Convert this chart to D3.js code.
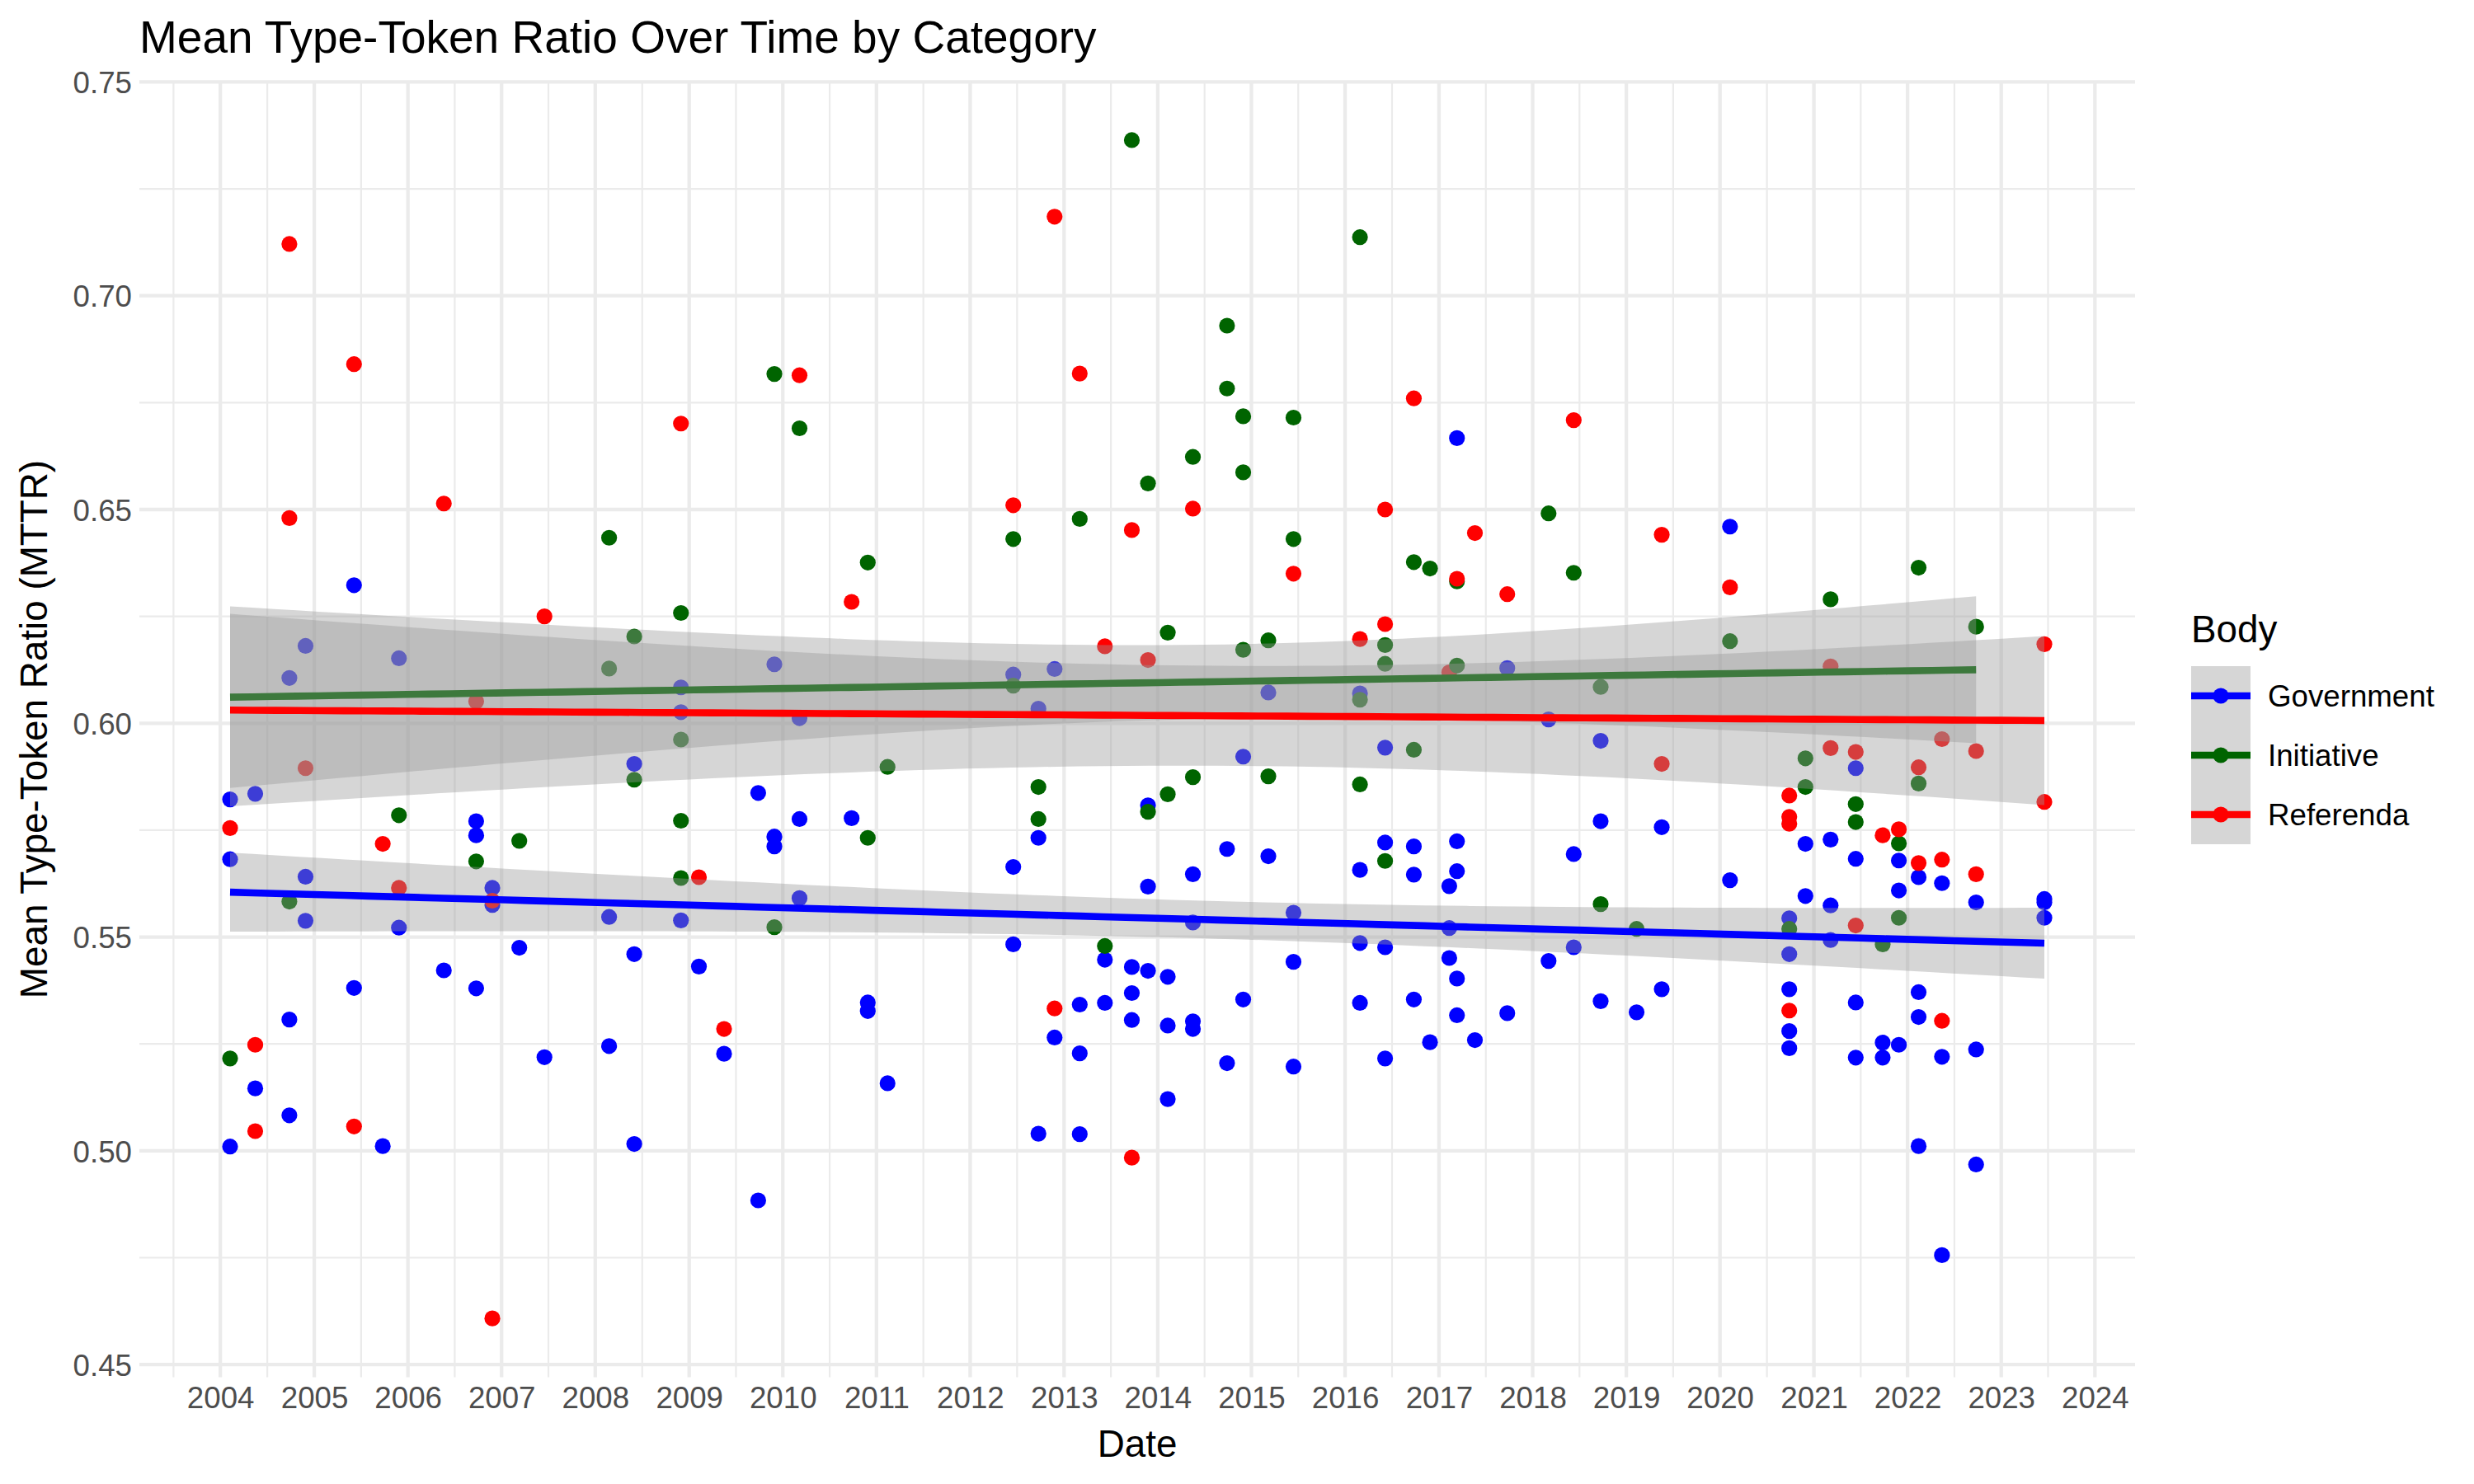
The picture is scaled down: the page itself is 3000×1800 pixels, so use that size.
<!DOCTYPE html>
<html><head><meta charset="utf-8">
<script src="https://cdn.jsdelivr.net/npm/d3@7"></script>
<style>
body{margin:0;background:#fff}
svg text{font-family:"Liberation Sans",Arial,Helvetica,sans-serif}
</style>
</head><body>
<svg id="chart" width="3000" height="1800"></svg>
<script>
// ---------------- DATA ----------------
const bodies = ["Government", "Initiative", "Referenda"];

const voteDates = [
 "2004-02-08","2004-05-16","2004-09-26","2004-11-28","2005-06-05","2005-09-25","2005-11-27","2006-05-21","2006-09-24","2006-11-26",
 "2007-03-11","2007-06-17","2008-02-24","2008-06-01","2008-11-30","2009-02-08","2009-05-17","2009-09-27","2009-11-29","2010-03-07",
 "2010-09-26","2010-11-28","2011-02-13","2012-06-17","2012-09-23","2012-11-25","2013-03-03","2013-06-09","2013-09-22","2013-11-24",
 "2014-02-09","2014-05-18","2014-09-28","2014-11-30","2015-03-08","2015-06-14","2016-02-28","2016-06-05","2016-09-25","2016-11-27",
 "2017-02-10","2017-03-12","2017-05-21","2017-09-24","2018-03-04","2018-06-10","2018-09-23","2019-02-10","2019-05-19","2020-02-09",
 "2020-09-27","2020-11-29","2021-03-07","2021-06-13","2021-09-26","2021-11-28","2022-02-13","2022-05-15","2022-09-25","2023-06-18"
];

// MTTR values per vote date (same order as voteDates)
const governmentValues = [
 [0.5822,0.5682,0.5010],[0.5835,0.5146],[0.6106,0.5307,0.5083],[0.6181,0.5641,0.5538],[0.6323,0.5381],
 [0.5011],[0.6152,0.5522],[0.5422],[0.5771,0.5738,0.5380],[0.5615,0.5575],
 [0.5475],[0.5219],[0.5547,0.5245],[0.5905,0.5460,0.5016],[0.6084,0.6026,0.5539],
 [0.5431],[0.5227],[0.5837,0.4884],[0.6138,0.5735,0.5712],[0.6012,0.5776,0.5591],
 [0.5778],[0.5347,0.5327],[0.5158],[0.6114,0.5664,0.5483],[0.6034,0.5732,0.5040],
 [0.6127,0.5265],[0.5342,0.5228,0.5039],[0.5447,0.5346],[0.5430,0.5369,0.5306],[0.5808,0.5618,0.5421],
 [0.5407,0.5293,0.5121],[0.5647,0.5534,0.5303,0.5285],[0.5706,0.5205],[0.5922,0.5354],[0.6072,0.5689],
 [0.5557,0.5442,0.5197],[0.6070,0.5657,0.5486,0.5346],[0.5943,0.5721,0.5476,0.5216],[0.5712,0.5646,0.5354],[0.5254],
 [0.5619,0.5521,0.5451],[0.6667,0.5724,0.5654,0.5403,0.5317],[0.5259],[0.6129,0.5322],[0.6009,0.5444],
 [0.5694,0.5476],[0.5959,0.5771,0.5350],[0.5324],[0.5757,0.5378],[0.6460,0.5633],
 [0.5544,0.5460,0.5378,0.5280,0.5240],[0.5718,0.5596],[0.5728,0.5574,0.5493],[0.5895,0.5683,0.5347,0.5218],[0.5253,0.5218],
 [0.5679,0.5609,0.5248],[0.5640,0.5371,0.5313,0.5011],[0.5626,0.5220,0.4756],[0.5581,0.5237,0.4968],[0.5589,0.5581,0.5545]
];

const initiativeValues = [
 [0.5216],[],[0.5583],[],[],
 [],[0.5785],[],[0.5677],[],
 [0.5725],[],[0.6434,0.6128],[0.6203,0.5868],[0.6258,0.5962,0.5772,0.5638],
 [],[],[],[0.6817,0.5523],[0.6690],
 [],[0.6376,0.5732],[0.5898],[0.6431,0.6088],[0.5851,0.5776],
 [],[0.6478],[0.5479],[0.7364],[0.6561,0.5793],
 [0.6212,0.5834],[0.6623,0.5874],[0.6930,0.6783],[0.6718,0.6587,0.6172],[0.6194,0.5876],
 [0.6715,0.6431],[0.7137,0.6055,0.5857],[0.6183,0.6139,0.5678],[0.6377,0.5938],[0.6362],
 [],[0.6332,0.6135],[],[],[0.6491],
 [0.6352],[0.6085,0.5577],[0.5519],[],[0.6192],
 [0.5519],[0.5918,0.5851],[0.6290],[0.5811,0.5769],[0.5483],
 [0.5719,0.5545],[0.6364,0.5859],[],[0.6226],[]
];

const referendaValues = [
 [0.5755],[0.5248,0.5046],[0.7121,0.6480],[0.5895],[0.6840,0.5057],
 [0.5718],[0.5615],[0.6514],[0.6051],[0.5585,0.4608],
 [],[0.6250],[],[],[0.6701],
 [0.5640],[0.5285],[],[],[0.6814],
 [0.6284],[],[],[0.6510],[],
 [0.7185,0.5333],[0.6818],[0.6180],[0.6452,0.4984],[0.6148],
 [],[0.6502],[],[],[],
 [0.6350],[0.6197],[0.6500,0.6232],[0.6760],[],
 [0.6119],[0.6338],[0.6445],[0.6302],[],
 [0.6709],[],[],[0.6441,0.5905],[0.6318],
 [0.5831,0.5781,0.5765,0.5328],[],[0.6133,0.5942],[0.5933,0.5527],[0.5738],
 [0.5752],[0.5897,0.5673],[0.5963,0.5681,0.5304],[0.5935,0.5647],[0.6185,0.5816]
];

const yTickValues = [0.45, 0.50, 0.55, 0.60, 0.65, 0.70, 0.75];
const xTickYears = d3.range(2004, 2025);

const titleText = "Mean Type-Token Ratio Over Time by Category";
const xTitle = "Date";
const yTitle = "Mean Type-Token Ratio (MTTR)";
const legendTitle = "Body";

// ---------------- STYLE / LAYOUT ----------------
const colors = {Government: "#0000FF", Initiative: "#006400", Referenda: "#FF0000"};
const panel = {left: 169, right: 2589, top: 98.5, bottom: 1670.6};
const pointR = 9.6, lineW = 8.6;
const ciLevel = 0.90;

const parse = d3.timeParse("%Y-%m-%d");
const seriesValues = {Government: governmentValues, Initiative: initiativeValues, Referenda: referendaValues};

// flatten to rows
const rows = [];
voteDates.forEach((ds, i) => {
  bodies.forEach(b => {
    seriesValues[b][i].forEach(v => rows.push({date: parse(ds), value: v, body: b}));
  });
});

// ggplot-like 5% expansion
const dExt = d3.extent(rows, d => +d.date);
const dPad = (dExt[1] - dExt[0]) * 0.05;
const vExt = d3.extent(rows, d => d.value);
const vPad = (vExt[1] - vExt[0]) * 0.05;

const x = d3.scaleTime().domain([new Date(dExt[0] - dPad), new Date(dExt[1] + dPad)]).range([panel.left, panel.right]);
const y = d3.scaleLinear().domain([vExt[0] - vPad, vExt[1] + vPad]).range([panel.bottom, panel.top]);

const svg = d3.select("#chart");
svg.append("rect").attr("width", 3000).attr("height", 1800).attr("fill", "#fff");

// ---------- grid ----------
const grid = svg.append("g");
const majorX = xTickYears.map(yr => new Date(yr, 0, 1));
const minorX = d3.range(2003, 2025).map(yr => new Date((+new Date(yr, 0, 1) + +new Date(yr + 1, 0, 1)) / 2))
  .filter(d => d >= x.domain()[0] && d <= x.domain()[1]);
const minorY = d3.range(0, yTickValues.length - 1).map(i => (yTickValues[i] + yTickValues[i + 1]) / 2);

grid.selectAll(".mny").data(minorY).join("line")
  .attr("x1", panel.left).attr("x2", panel.right)
  .attr("y1", d => y(d)).attr("y2", d => y(d))
  .attr("stroke", "#EBEBEB").attr("stroke-width", 2.2);
grid.selectAll(".mnx").data(minorX).join("line")
  .attr("y1", panel.top).attr("y2", panel.bottom)
  .attr("x1", d => x(d)).attr("x2", d => x(d))
  .attr("stroke", "#EBEBEB").attr("stroke-width", 2.2);
grid.selectAll(".mjy").data(yTickValues).join("line")
  .attr("x1", panel.left).attr("x2", panel.right)
  .attr("y1", d => y(d)).attr("y2", d => y(d))
  .attr("stroke", "#EBEBEB").attr("stroke-width", 4.3);
grid.selectAll(".mjx").data(majorX).join("line")
  .attr("y1", panel.top).attr("y2", panel.bottom)
  .attr("x1", d => x(d)).attr("x2", d => x(d))
  .attr("stroke", "#EBEBEB").attr("stroke-width", 4.3);

// ---------- axes ----------
const xAxis = d3.axisBottom(x).tickValues(majorX).tickFormat(d3.timeFormat("%Y")).tickSize(0).tickPadding(0);
const gx = svg.append("g").attr("transform", `translate(0,${panel.bottom + 9})`).call(xAxis);
gx.select(".domain").remove();
gx.selectAll("text").attr("font-size", 36.7).attr("fill", "#4D4D4D").attr("dy", "0.78em")
  .style("font-family", '"Liberation Sans", Arial, sans-serif');

const yAxis = d3.axisLeft(y).tickValues(yTickValues).tickFormat(d3.format(".2f")).tickSize(0).tickPadding(0);
const gy = svg.append("g").attr("transform", `translate(${panel.left - 9},0)`).call(yAxis);
gy.select(".domain").remove();
gy.selectAll("text").attr("font-size", 36.7).attr("fill", "#4D4D4D").attr("dy", "0.36em")
  .style("font-family", '"Liberation Sans", Arial, sans-serif');

// ---------- points ----------
svg.append("g").selectAll("circle").data(rows).join("circle")
  .attr("cx", d => x(d.date)).attr("cy", d => y(d.value)).attr("r", pointR)
  .attr("fill", d => colors[d.body]);

// ---------- linear smooth with confidence band (like geom_smooth(method = "lm")) ----------
function qtUpper(p, df) { // Cornish-Fisher approximation of Student t quantile
  const z = d3.randomNormal ? inverseNormal(p) : 1.96;
  const g1 = (Math.pow(z, 3) + z) / 4;
  const g2 = (5 * Math.pow(z, 5) + 16 * Math.pow(z, 3) + 3 * z) / 96;
  const g3 = (3 * Math.pow(z, 7) + 19 * Math.pow(z, 5) + 17 * Math.pow(z, 3) - 15 * z) / 384;
  return z + g1 / df + g2 / (df * df) + g3 / (df * df * df);
}
function inverseNormal(p) { // Acklam's approximation
  const a = [-39.6968302866538, 220.946098424521, -275.928510446969, 138.357751867269, -30.6647980661472, 2.50662827745924];
  const b = [-54.4760987982241, 161.585836858041, -155.698979859887, 66.8013118877197, -13.2806815528857];
  const c = [-0.00778489400243029, -0.322396458041136, -2.40075827716184, -2.54973253934373, 4.37466414146497, 2.93816398269878];
  const d = [0.00778469570904146, 0.32246712907004, 2.445134137143, 3.75440866190742];
  const pl = 0.02425;
  if (p < pl) { const q = Math.sqrt(-2 * Math.log(p)); return (((((c[0]*q+c[1])*q+c[2])*q+c[3])*q+c[4])*q+c[5]) / ((((d[0]*q+d[1])*q+d[2])*q+d[3])*q+1); }
  if (p > 1 - pl) { const q = Math.sqrt(-2 * Math.log(1 - p)); return -(((((c[0]*q+c[1])*q+c[2])*q+c[3])*q+c[4])*q+c[5]) / ((((d[0]*q+d[1])*q+d[2])*q+d[3])*q+1); }
  const q = p - 0.5, r = q * q;
  return (((((a[0]*r+a[1])*r+a[2])*r+a[3])*r+a[4])*r+a[5])*q / (((((b[0]*r+b[1])*r+b[2])*r+b[3])*r+b[4])*r+1);
}
function lmFit(pts) {
  const xs = pts.map(p => +p.date / 864e5), ys = pts.map(p => p.value);
  const n = xs.length, xm = d3.mean(xs), ym = d3.mean(ys);
  let sxx = 0, sxy = 0;
  for (let i = 0; i < n; i++) { sxx += (xs[i] - xm) ** 2; sxy += (xs[i] - xm) * (ys[i] - ym); }
  const b = sxy / sxx, a = ym - b * xm;
  let sse = 0;
  for (let i = 0; i < n; i++) sse += (ys[i] - a - b * xs[i]) ** 2;
  const s = Math.sqrt(sse / (n - 2)), t = qtUpper(1 - (1 - ciLevel) / 2, n - 2);
  const [x0, x1] = d3.extent(xs);
  return d3.range(80).map(k => {
    const xv = x0 + (x1 - x0) * k / 79;
    const f = a + b * xv;
    const se = s * Math.sqrt(1 / n + (xv - xm) ** 2 / sxx);
    return {date: new Date(xv * 864e5), fit: f, lo: f - t * se, hi: f + t * se};
  });
}
const area = d3.area().x(d => x(d.date)).y0(d => y(d.lo)).y1(d => y(d.hi));
const line = d3.line().x(d => x(d.date)).y(d => y(d.fit));
const smoothG = svg.append("g");
bodies.forEach(b => {
  const fit = lmFit(rows.filter(r => r.body === b));
  smoothG.append("path").datum(fit).attr("d", area).attr("fill", "#999999").attr("fill-opacity", 0.4);
  smoothG.append("path").datum(fit).attr("d", line).attr("fill", "none")
    .attr("stroke", colors[b]).attr("stroke-width", lineW);
});

// ---------- titles ----------
svg.append("text").attr("x", panel.left).attr("y", 64).attr("font-size", 55).attr("fill", "#000")
  .text(titleText);
svg.append("text").attr("x", (panel.left + panel.right) / 2).attr("y", 1767).attr("text-anchor", "middle")
  .attr("font-size", 45.8).attr("fill", "#000").text(xTitle);
svg.append("text").attr("transform", `translate(57,${(panel.top + panel.bottom) / 2}) rotate(-90)`)
  .attr("text-anchor", "middle").attr("font-size", 45.8).attr("fill", "#000").text(yTitle);

// ---------- legend ----------
const lg = svg.append("g").attr("transform", "translate(2657,0)");
lg.append("text").attr("x", 0).attr("y", 779).attr("font-size", 45.8).attr("fill", "#000").text(legendTitle);
const keySize = 72, keyTop = 808;
bodies.forEach((b, i) => {
  const ky = keyTop + i * keySize;
  lg.append("rect").attr("x", 0).attr("y", ky).attr("width", keySize).attr("height", keySize)
    .attr("fill", "#999999").attr("fill-opacity", 0.4);
  lg.append("line").attr("x1", 0).attr("x2", keySize).attr("y1", ky + keySize / 2).attr("y2", ky + keySize / 2)
    .attr("stroke", colors[b]).attr("stroke-width", lineW);
  lg.append("circle").attr("cx", keySize / 2).attr("cy", ky + keySize / 2).attr("r", pointR).attr("fill", colors[b]);
  lg.append("text").attr("x", keySize + 21).attr("y", ky + keySize / 2).attr("dy", "0.35em")
    .attr("font-size", 36.7).attr("fill", "#000").text(b);
});
</script>
</body></html>
